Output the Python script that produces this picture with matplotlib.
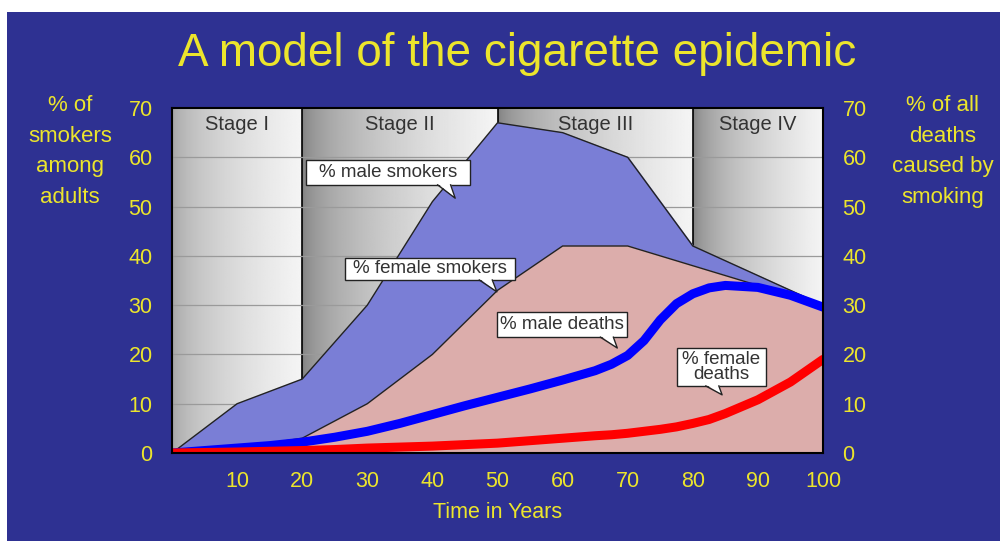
import matplotlib
matplotlib.use('Agg')
import matplotlib.pyplot as plt
import numpy as np
from matplotlib.patches import Rectangle, Polygon

plt.rcParams['font.family'] = ['Liberation Sans', 'DejaVu Sans']

# данные
years = [0, 10, 20, 30, 40, 50, 60, 70, 80, 90, 100]
male_smokers = [0, 10, 15, 30, 51, 67, 65, 60, 42, 36, 30]
female_smokers = [0, 1, 3, 10, 20, 33, 42, 42, 38, 34, 30]

death_years = [0, 5, 10, 15, 20, 25, 30, 35, 40, 45, 50, 55, 60, 65, 67.5, 70, 72.5, 75, 77.5, 80, 82.5, 85, 90, 95, 100]
male_deaths = [0, 0.5, 1, 1.5, 2.2, 3.2, 4.4, 6, 7.8, 9.6, 11.3, 13, 14.8, 16.7, 18, 19.8, 22.8, 27, 30.3, 32.3, 33.5, 34, 33.6, 32, 29.6]
female_deaths = [0, 0.1, 0.2, 0.35, 0.5, 0.7, 1, 1.2, 1.4, 1.7, 2, 2.5, 3, 3.5, 3.7, 4, 4.4, 4.8, 5.3, 6, 6.8, 8, 10.8, 14.4, 19]

stages = ['Stage I', 'Stage II', 'Stage III', 'Stage IV']
stage_bounds = [0, 20, 50, 80, 100]
x_ticks = [10, 20, 30, 40, 50, 60, 70, 80, 90, 100]
y_ticks = [0, 10, 20, 30, 40, 50, 60, 70]

BG = '#2e3192'
YELLOW = '#ece52c'


def callout(ax, text, box, tip, base):
    """Белая выноска с хвостиком"""
    x0, y0, x1, y1 = box
    ax.add_patch(Rectangle((x0, y0), x1 - x0, y1 - y0, fc='white', ec='#222222', lw=1.0, zorder=6))
    b0, b1 = base
    ax.add_patch(Polygon([(b0, y0 + 0.3), tip, (b1, y0 + 0.3)], closed=True, fc='white', ec='none', zorder=7))
    ax.plot([b0, tip[0], b1], [y0, tip[1], y0], color='#222222', lw=1.0, zorder=7)
    ax.text((x0 + x1) / 2, (y0 + y1) / 2, text, ha='center', va='center', fontsize=13.5,
            color='#333333', linespacing=0.8, zorder=8)


def main():
    fig = plt.figure(figsize=(10, 5.41), dpi=100)
    fig.patch.set_facecolor('white')
    fig.patches.append(Rectangle((0.007, 0), 0.993, 1 - 12 / 541, transform=fig.transFigure,
                                 fc=BG, ec='none', zorder=-10))

    ax = fig.add_axes([0.172, 1 - 453 / 541, 0.651, (453 - 108) / 541])
    ax.set_zorder(1)
    ax.set_xlim(0, 100)
    ax.set_ylim(0, 70)

    # градиентный фон стадий
    t = np.linspace(0, 1, 256)
    for i in range(len(stages)):
        dark = 0.62 if i == 0 else 0.48
        grad = dark + (0.96 - dark) * np.sqrt(t)
        img = np.tile(grad, (2, 1))
        ax.imshow(img, cmap='gray', vmin=0, vmax=1, aspect='auto',
                  extent=[stage_bounds[i], stage_bounds[i + 1], 0, 70], zorder=0)
        ax.text((stage_bounds[i] + stage_bounds[i + 1]) / 2, 68.6, stages[i], ha='center', va='top',
                fontsize=14.5, color='#333333', zorder=1)
        if i > 0:
            ax.axvline(stage_bounds[i], color='black', lw=1.2, zorder=1)

    for y in y_ticks[1:-1]:
        ax.axhline(y, color='#9a9a9a', lw=0.9, zorder=1)

    ax.fill_between(years, male_smokers, color='#7a7ed6', zorder=2)
    ax.plot(years, male_smokers, color='#222222', lw=1.0, zorder=2)
    ax.fill_between(years, female_smokers, color='#dcadab', zorder=3)
    ax.plot(years, female_smokers, color='#222222', lw=1.0, zorder=3)

    ax.plot(death_years, male_deaths, color='#0000ff', lw=6.5, solid_capstyle='round',
            solid_joinstyle='round', zorder=4)
    ax.plot(death_years, female_deaths, color='#ff0000', lw=6.5, solid_capstyle='round',
            solid_joinstyle='round', zorder=4)

    callout(ax, '% male smokers', (20.6, 54.4, 45.8, 59.4), (43.5, 51.7), (40.8, 42.8))
    callout(ax, '% female smokers', (26.6, 35.1, 52.7, 39.6), (49.9, 32.7), (47.2, 49.2))
    callout(ax, '% male deaths', (49.9, 23.5, 69.9, 28.6), (68.4, 21.3), (65.8, 67.8))
    callout(ax, '% female\ndeaths', (77.6, 13.6, 91.2, 21.3), (84.5, 11.8), (82.0, 84.0))

    for s in ax.spines.values():
        s.set_color('black')
        s.set_linewidth(1.5)
        s.set_zorder(9)

    ax.set_xticks(x_ticks)
    ax.set_yticks(y_ticks)
    ax.tick_params(colors=YELLOW, labelsize=15.5, length=0, pad=14)
    ax.tick_params(axis='x', pad=13)
    ax.set_xlabel('Time in Years', color=YELLOW, fontsize=15.5, labelpad=7)

    ax2 = ax.twinx()
    ax2.set_ylim(0, 70)
    ax2.set_yticks(y_ticks)
    ax2.tick_params(colors=YELLOW, labelsize=15.5, length=0, pad=14)
    ax2.patch.set_visible(False)
    for s in ax2.spines.values():
        s.set_visible(False)

    fig.text(0.517, 1 - 54 / 541, 'A model of the cigarette epidemic', ha='center', va='center',
             fontsize=33, color=YELLOW)
    fig.text(0.070, 1 - 95 / 541, '% of\nsmokers\namong\nadults', ha='center', va='top',
             fontsize=16, color=YELLOW, linespacing=1.6)
    fig.text(0.943, 1 - 95 / 541, '% of all\ndeaths\ncaused by\nsmoking', ha='center', va='top',
             fontsize=16, color=YELLOW, linespacing=1.6)

    fig.savefig('out.png', dpi=100, facecolor=fig.get_facecolor())


if __name__ == '__main__':
    main()
